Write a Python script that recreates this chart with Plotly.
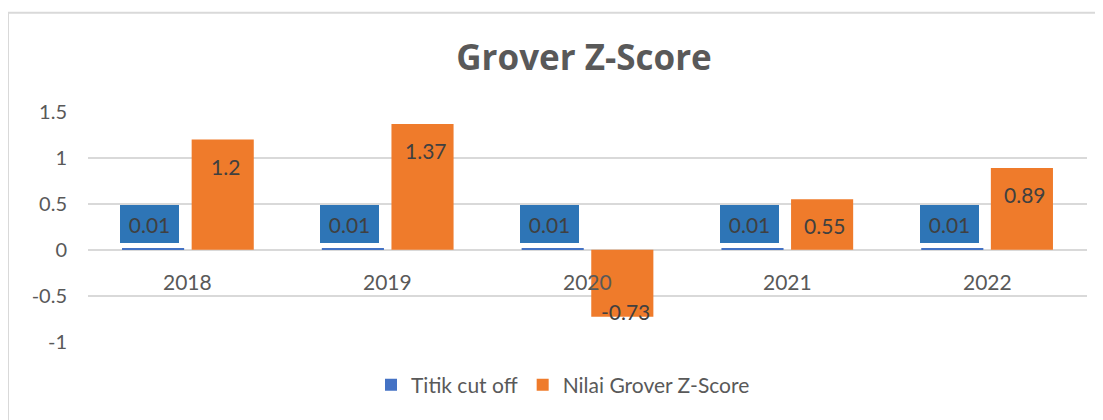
import plotly.graph_objects as go

years = ["2018", "2019", "2020", "2021", "2022"]
cutoff = [0.01, 0.01, 0.01, 0.01, 0.01]
grover = [1.2, 1.37, -0.73, 0.55, 0.89]
y_ticks = [-1, -0.5, 0, 0.5, 1, 1.5]
y_tick_text = ["-1", "-0.5", "0", "0.5", "1", "1.5"]

FONT = "Lato"
TXT = "#595959"
LBL = "#404040"
BLUE_LBL = "#2E75B6"
BLUE = "#4472C4"
ORANGE = "#EF7B2B"
GRID = "#D9D9D9"
OFF = 38  # px offset of each bar from the category centre

W, H = 1095, 412  # page body has an 8px margin inside the 1103x420 window

fig = go.Figure()
fig.add_trace(go.Bar(name="Titik cut off", x=years, y=cutoff,
                     marker=dict(color=BLUE, line=dict(width=0))))
fig.add_trace(go.Bar(name="Nilai Grover Z-Score", x=years, y=grover,
                     marker=dict(color=ORANGE, line=dict(width=0))))

ann = []
# category positions on the category axis are the indices of the years
for i, v in enumerate(cutoff):
    ann.append(dict(x=i, y=v, xref="x", yref="y", text=f"{v:g}", showarrow=False,
                    xshift=-OFF, yanchor="bottom", yshift=6, width=53, height=32,
                    bgcolor=BLUE_LBL, borderpad=2, borderwidth=1, bordercolor=BLUE_LBL,
                    font=dict(family=FONT, size=21, color=LBL)))
for i, v in enumerate(grover):
    if v >= 0:
        ann.append(dict(x=i, y=v, xref="x", yref="y", text=f"{v:g}", showarrow=False,
                        xshift=OFF, yanchor="top", yshift=-12,
                        font=dict(family=FONT, size=21, color=LBL)))
    else:
        ann.append(dict(x=i, y=v, xref="x", yref="y", text=f"{v:g}", showarrow=False,
                        xshift=OFF, yanchor="bottom", yshift=-9,
                        font=dict(family=FONT, size=21, color=LBL)))
for i, yr in enumerate(years):
    ann.append(dict(x=i, y=0, xref="x", yref="y", text=yr, showarrow=False,
                    yanchor="top", yshift=-17,
                    font=dict(family=FONT, size=21, color=TXT)))

fig.update_layout(
    width=W, height=H,
    margin=dict(l=80, r=16, t=104, b=77),
    paper_bgcolor="white", plot_bgcolor="white",
    barmode="group", bargap=0.303, bargroupgap=0.108,
    title=dict(text="<b>Grover Z-Score</b>", x=576 / W, xanchor="center",
               y=1 - 50 / H, yanchor="middle", xref="container", yref="container",
               font=dict(family="Open Sans", size=35, color=TXT)),
    legend=dict(orientation="h", xref="container", yref="container",
                x=555 / W, xanchor="center", y=1 - 377 / H, yanchor="middle",
                font=dict(family=FONT, size=21, color=TXT), itemwidth=30,
                traceorder="normal"),
    annotations=ann,
    shapes=[dict(type="rect", xref="paper", yref="paper",
                 x0=-80 / 999, x1=1012 / 999, y0=-0.5, y1=1 + 100 / 231,
                 line=dict(color=GRID, width=2), fillcolor="rgba(0,0,0,0)", layer="below")],
)
fig.update_xaxes(type="category", range=[-0.5, len(years) - 0.5],
                 showticklabels=False, showgrid=False, showline=False, ticks="")
fig.update_yaxes(range=[-1, 1.5], tickvals=y_ticks, ticktext=y_tick_text,
                 showgrid=True, gridcolor=GRID, gridwidth=1.5,
                 zeroline=True, zerolinecolor=GRID, zerolinewidth=1.5,
                 ticklabelstandoff=20,
                 tickfont=dict(family=FONT, size=20, color=TXT))

fig.write_html("out.html")
